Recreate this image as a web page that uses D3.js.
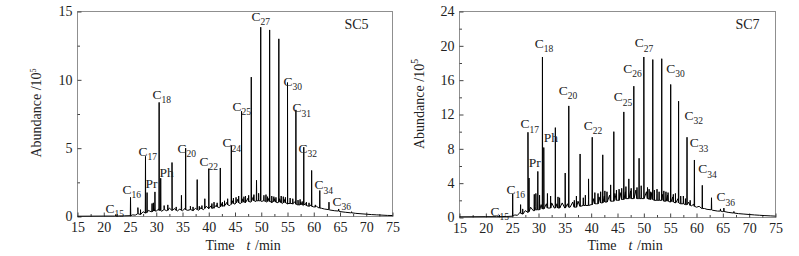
<!DOCTYPE html>
<html lang="en">
<head>
<meta charset="UTF-8">
<title>SC5 / SC7 chromatograms</title>
<style>
  body { margin: 0; background: #fff; }
  svg { display: block; font-family: "Liberation Serif", "Times New Roman", serif; }
  .frame { fill: none; stroke: #8f8f8f; stroke-width: 1; }
  .trace { fill: none; stroke: #000; stroke-width: 1; stroke-linejoin: round; }
  .axis path.domain { display: none; }
  .axis line { stroke: #444; }
  .axis text { font-family: "Liberation Serif", serif; font-size: 14px; fill: #222; }
  .lbl { font-size: 13.5px; fill: #222; }
  .title { font-size: 14px; fill: #222; }
</style>
</head>
<body>
<svg width="799" height="256"></svg>
<script src="https://cdnjs.cloudflare.com/ajax/libs/d3/7.8.5/d3.min.js"></script>
<script>

// ---- data ----
const timeTicks = [15, 20, 25, 30, 35, 40, 45, 50, 55, 60, 65, 70, 75];
const timeMinor = [17.5, 22.5, 27.5, 32.5, 37.5, 42.5, 47.5, 52.5, 57.5, 62.5, 67.5, 72.5];

const sc5Ticks = [0, 5, 10, 15];
const sc5Minor = [2.5, 7.5, 12.5];
const sc7Ticks = [0, 4, 8, 12, 16, 20, 24];
const sc7Minor = [2, 6, 10, 14, 18, 22];

// baseline (hump + noise), [time, abundance]
const sc5Base = [
  [15, 0.02], [20, 0.03], [22, 0.03], [24, 0.05], [25, 0.06], [25.5, 0.12], [26, 0.1], [26.5, 0.3],
  [27, 0.15], [27.5, 0.35], [28, 0.25], [28.5, 0.45], [29, 0.35], [29.5, 0.6], [30, 0.4], [30.5, 0.55],
  [31, 0.38], [31.5, 0.6], [32, 0.42], [32.5, 0.62], [33, 0.45], [33.5, 0.58], [34, 0.4], [34.5, 0.55],
  [35, 0.42], [35.5, 0.6], [36, 0.45], [36.5, 0.55], [37, 0.4], [37.5, 0.6], [38, 0.45], [38.5, 0.65],
  [39, 0.5], [39.5, 0.75], [40, 0.55], [40.5, 0.8], [41, 0.6], [41.5, 0.85], [42, 0.65], [42.5, 0.95],
  [43, 0.75], [43.5, 1.05], [44, 0.8], [44.5, 1.15], [45, 0.9], [45.5, 1.25], [46, 0.95], [46.5, 1.3],
  [47, 1.0], [47.5, 1.35], [48, 1.05], [48.5, 1.45], [49, 1.1], [49.5, 1.4], [50, 1.1], [50.5, 1.45],
  [51, 1.05], [51.5, 1.35], [52, 1.0], [52.5, 1.3], [53, 1.0], [53.5, 1.3], [54, 0.95], [54.5, 1.25],
  [55, 0.9], [55.5, 1.2], [56, 0.9], [56.5, 1.1], [57, 0.85], [57.5, 1.05], [58, 0.8], [58.5, 0.95],
  [59, 0.75], [59.5, 0.85], [60, 0.7], [60.5, 0.75], [61, 0.62], [61.5, 0.6], [62, 0.55], [63, 0.48],
  [64, 0.42], [65, 0.36], [66, 0.31], [67, 0.27], [68, 0.23], [69, 0.2], [70, 0.17], [71, 0.14],
  [72, 0.12], [73, 0.1], [74, 0.08], [75, 0.07]
];

// peaks, [time, foot, top]
const sc5Peaks = [
  [22.3, 0.03, 0.15], [25.1, 0.06, 1.4], [26.5, 0.2, 0.65], [27.0, 0.15, 0.5], [27.95, 0.25, 4.4],
  [28.25, 0.3, 1.75], [29.2, 0.35, 0.95], [29.45, 0.4, 1.0], [29.75, 0.4, 1.8], [30.55, 0.45, 8.35],
  [30.85, 0.45, 2.8], [31.5, 0.5, 0.8], [32.2, 0.45, 0.85], [33.0, 0.45, 3.95], [33.8, 0.45, 0.7],
  [34.8, 0.45, 1.55], [35.6, 0.5, 5.0], [36.5, 0.5, 0.75], [37.0, 0.45, 0.7], [37.8, 0.5, 2.7],
  [38.2, 0.5, 0.75], [38.7, 0.55, 0.8], [39.25, 0.6, 1.3], [40.0, 0.6, 3.5], [40.6, 0.6, 0.95],
  [41.0, 0.65, 1.05], [41.6, 0.7, 1.0], [42.2, 0.7, 3.55], [42.6, 0.75, 1.05], [43.0, 0.8, 1.15],
  [43.6, 0.85, 1.3], [44.3, 0.9, 5.2], [44.7, 0.95, 1.35], [45.2, 1.0, 1.4], [45.7, 1.0, 1.5],
  [46.25, 1.0, 7.7], [46.7, 1.05, 1.45], [47.0, 1.05, 1.5], [47.6, 1.1, 1.55], [48.1, 1.1, 10.2],
  [48.6, 1.15, 1.6], [49.1, 1.15, 2.65], [49.5, 1.15, 1.7], [49.9, 1.15, 13.85], [50.5, 1.15, 1.55],
  [50.9, 1.1, 1.6], [51.2, 1.1, 1.45], [51.6, 1.1, 13.65], [52.0, 1.05, 1.5], [52.4, 1.1, 1.45],
  [52.8, 1.05, 1.4], [53.35, 1.05, 13.0], [53.8, 1.0, 1.5], [54.2, 1.0, 1.45], [54.6, 1.0, 1.4],
  [55.0, 0.95, 9.8], [55.5, 0.95, 1.35], [56.0, 0.95, 1.3], [56.6, 0.9, 7.8], [57.0, 0.85, 1.2],
  [57.4, 0.85, 1.25], [57.8, 0.85, 1.1], [58.1, 0.85, 5.07], [58.6, 0.8, 1.05], [59.1, 0.75, 1.0],
  [59.6, 0.75, 3.37], [60.3, 0.7, 0.85], [61.15, 0.62, 1.9], [62.9, 0.5, 1.05], [64.75, 0.4, 0.55],
  [67.2, 0.27, 0.35]
];

// labels, [text, subscript, time, abundance] (lower-left of the letter)
const sc5Labels = [
  ["C", "15", 20.33, 0.29], ["C", "16", 23.57, 1.68], ["C", "17", 26.62, 4.46], ["Pr", "", 27.95, 2.05],
  ["C", "18", 29.29, 8.63], ["Ph", "", 30.6, 2.87], ["C", "20", 34.05, 4.68], ["C", "22", 38.24, 3.73],
  ["C", "24", 42.62, 5.05], ["C", "25", 44.52, 7.75], ["C", "27", 48.14, 14.34], ["C", "30", 54.24, 9.58],
  ["C", "31", 55.95, 7.61], ["C", "32", 57.1, 4.68], ["C", "34", 60.14, 1.98], ["C", "36", 63.57, 0.8]
];

const sc7Base = [
  [15, 0.08], [20, 0.1], [22, 0.1], [24, 0.12], [25, 0.15], [25.5, 0.3], [26, 0.25], [26.5, 0.6],
  [27, 0.4], [27.5, 0.8], [28, 0.6], [28.5, 1.2], [29, 0.8], [29.5, 1.3], [30, 0.9], [30.5, 1.5],
  [31, 1.0], [31.5, 1.6], [32, 1.1], [32.5, 1.7], [33, 1.1], [33.5, 1.6], [34, 1.1], [34.5, 1.7],
  [35, 1.1], [35.5, 1.6], [36, 1.2], [36.5, 1.8], [37, 1.2], [37.5, 1.9], [38, 1.3], [38.5, 2.0],
  [39, 1.4], [39.5, 2.1], [40, 1.5], [40.5, 2.2], [41, 1.6], [41.5, 2.4], [42, 1.7], [42.5, 2.5],
  [43, 1.8], [43.5, 2.6], [44, 1.9], [44.5, 2.8], [45, 2.0], [45.5, 2.9], [46, 2.1], [46.5, 3.0],
  [47, 2.2], [47.5, 3.1], [48, 2.2], [48.5, 3.2], [49, 2.2], [49.5, 3.1], [50, 2.2], [50.5, 3.0],
  [51, 2.1], [51.5, 2.9], [52, 2.0], [52.5, 2.8], [53, 2.0], [53.5, 2.7], [54, 1.9], [54.5, 2.6],
  [55, 1.8], [55.5, 2.4], [56, 1.7], [56.5, 2.2], [57, 1.6], [57.5, 2.0], [58, 1.5], [58.5, 1.8],
  [59, 1.35], [59.5, 1.55], [60, 1.2], [60.5, 1.3], [61, 1.05], [61.5, 1.05], [62, 0.95], [63, 0.85],
  [64, 0.75], [65, 0.68], [66, 0.6], [67, 0.52], [68, 0.45], [69, 0.4], [70, 0.35], [71, 0.3],
  [72, 0.26], [73, 0.22], [74, 0.19], [75, 0.16]
];

const sc7Peaks = [
  [22.6, 0.1, 0.25], [25.1, 0.15, 2.75], [26.6, 0.5, 1.5], [27.0, 0.4, 1.0], [28.0, 0.6, 9.93],
  [28.2, 0.7, 4.6], [29.2, 0.8, 2.7], [29.5, 0.9, 2.8], [29.87, 0.9, 5.37], [30.2, 0.9, 2.6],
  [30.75, 1.0, 18.7], [31.0, 1.0, 8.15], [31.7, 1.1, 2.8], [32.3, 1.1, 2.5], [33.2, 1.1, 10.47],
  [33.7, 1.1, 2.4], [34.0, 1.1, 2.3], [35.07, 1.1, 5.18], [35.75, 1.2, 13.0], [36.8, 1.2, 2.0],
  [37.2, 1.2, 2.5], [37.9, 1.3, 7.4], [38.5, 1.4, 2.3], [38.9, 1.4, 2.6], [39.5, 1.4, 4.5],
  [40.2, 1.5, 9.35], [40.7, 1.6, 2.9], [41.3, 1.6, 2.8], [41.8, 1.7, 3.0], [42.2, 1.7, 7.3],
  [42.6, 1.8, 3.1], [43.0, 1.8, 3.0], [43.7, 1.9, 3.8], [44.3, 1.9, 10.0], [44.8, 2.0, 3.2],
  [45.3, 2.0, 3.3], [45.8, 2.1, 3.4], [46.2, 2.1, 12.3], [46.6, 2.2, 3.6], [47.15, 2.2, 4.5],
  [47.6, 2.2, 3.4], [48.1, 2.2, 15.3], [48.7, 2.2, 3.5], [49.1, 2.2, 6.9], [49.5, 2.2, 3.7],
  [50.0, 2.2, 18.7], [50.7, 2.2, 3.5], [51.0, 2.2, 3.3], [51.3, 2.1, 3.0], [51.7, 2.1, 18.4],
  [52.0, 2.0, 3.2], [52.5, 2.0, 3.3], [52.9, 2.0, 3.0], [53.4, 2.0, 18.5], [53.8, 1.9, 3.1],
  [54.2, 1.9, 3.0], [54.6, 1.9, 2.9], [55.1, 1.8, 15.5], [55.6, 1.8, 2.7], [56.0, 1.7, 2.8],
  [56.6, 1.7, 13.55], [57.0, 1.6, 2.5], [57.5, 1.6, 2.5], [57.9, 1.5, 2.2], [58.2, 1.5, 9.35],
  [58.8, 1.4, 2.0], [59.6, 1.3, 6.7], [61.1, 1.05, 3.75], [62.85, 0.9, 2.3], [64.55, 0.75, 1.0],
  [65.2, 0.7, 1.1], [67.1, 0.52, 0.7]
];

const sc7Labels = [
  ["C", "15", 20.89, 0.23], ["C", "16", 23.92, 2.75], ["C", "17", 26.58, 10.4], ["Pr", "", 28.16, 5.83],
  ["C", "18", 29.3, 19.8], ["Ph", "", 31.0, 8.85], ["C", "20", 33.85, 14.3], ["C", "22", 38.6, 10.2],
  ["C", "25", 44.3, 13.57], ["C", "26", 46.08, 16.85], ["C", "27", 48.28, 19.86], ["C", "30", 54.24, 16.85],
  ["C", "32", 57.72, 11.36], ["C", "33", 58.72, 8.2], ["C", "34", 60.32, 5.18], ["C", "36", 63.8, 1.9]
];

const svg = d3.select('svg');

function drawPanel(p) {
    const x = d3.scaleLinear().domain([15, 75]).range([p.left, p.right]);
    const y = d3.scaleLinear().domain([0, p.yMax]).range([p.bottom, p.top]);

    const g = svg.append('g');

    g.append('rect')
        .attr('class', 'frame')
        .attr('x', p.left).attr('y', p.top)
        .attr('width', p.right - p.left).attr('height', p.bottom - p.top);

    // x axis, ticks point inward
    g.append('g').attr('class', 'axis')
        .attr('transform', `translate(0, ${p.bottom})`)
        .call(d3.axisBottom(x).tickValues(timeTicks).tickSize(-4).tickPadding(6));
    g.append('g').attr('class', 'axis')
        .attr('transform', `translate(0, ${p.bottom})`)
        .call(d3.axisBottom(x).tickValues(timeMinor).tickSize(-2.5).tickFormat(''));

    g.append('g').attr('class', 'axis')
        .attr('transform', `translate(${p.left}, 0)`)
        .call(d3.axisLeft(y).tickValues(p.yTicks).tickSize(-4).tickPadding(5));
    g.append('g').attr('class', 'axis')
        .attr('transform', `translate(${p.left}, 0)`)
        .call(d3.axisLeft(y).tickValues(p.yMinor).tickSize(-2.5).tickFormat(''));

    // trace = baseline + spikes
    let pts = p.base.map(d => [d[0], d[1]]);
    p.peaks.forEach(d => {
        pts.push([d[0] - 0.04, d[1]], [d[0], d[2]], [d[0] + 0.04, d[1]]);
    });
    pts.sort((a, b) => a[0] - b[0]);

    const line = d3.line().x(d => x(d[0])).y(d => y(d[1]));
    g.append('path').attr('class', 'trace').attr('d', line(pts));

    // peak labels
    p.labels.forEach(l => {
        const t = g.append('text').attr('class', 'lbl')
            .attr('x', x(l[2])).attr('y', y(l[3]))
            .text(l[0]);
        if (l[1]) {
            t.append('tspan').attr('dy', 4.5).attr('font-size', 9.5).text(l[1]);
        }
    });

    // sample name
    g.append('text').attr('class', 'title')
        .attr('x', p.right - p.nameDx).attr('y', p.top + 17)
        .attr('font-size', 14.5)
        .text(p.name);

    // y title
    const yt = g.append('text').attr('class', 'title')
        .attr('transform', `translate(${p.yTitleX}, ${p.yTitleY}) rotate(-90)`)
        .attr('text-anchor', 'middle')
        .attr('font-size', p.yTitleSize)
        .text('Abundance /10');
    yt.append('tspan').attr('dy', -p.yTitleSize * 0.4).attr('font-size', p.yTitleSize * 0.65).text('5');

    // x title
    const xt = g.append('text').attr('class', 'title').attr('y', 250);
    xt.append('tspan').attr('x', p.left + 128).text('Time');
    xt.append('tspan').attr('x', p.left + 169).attr('font-style', 'italic').text('t');
    xt.append('tspan').attr('x', p.left + 174).text(' /min');
}

drawPanel({
    name: 'SC5', left: 77.5, right: 392.5, top: 11.5, bottom: 216.5, yMax: 15,
    yTicks: sc5Ticks, yMinor: sc5Minor, base: sc5Base, peaks: sc5Peaks, labels: sc5Labels,
    nameDx: 48, yTitleX: 41, yTitleY: 113, yTitleSize: 12.5
});

drawPanel({
    name: 'SC7', left: 459.5, right: 775.5, top: 11.5, bottom: 217.5, yMax: 24,
    yTicks: sc7Ticks, yMinor: sc7Minor, base: sc7Base, peaks: sc7Peaks, labels: sc7Labels,
    nameDx: 40, yTitleX: 424, yTitleY: 104, yTitleSize: 15
});

</script>
</body>
</html>
